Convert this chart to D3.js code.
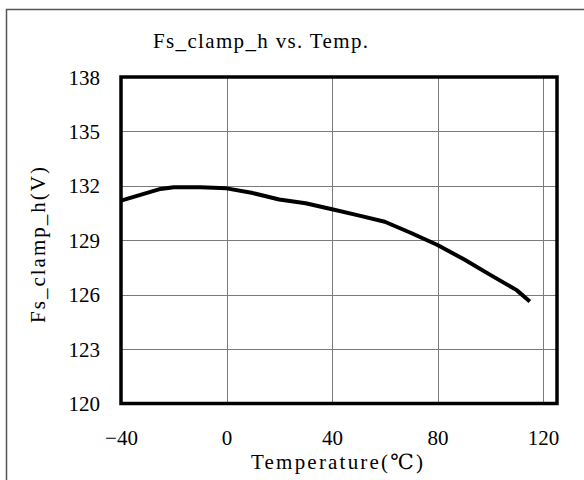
<!DOCTYPE html>
<html>
<head>
<meta charset="utf-8">
<script src="https://cdn.jsdelivr.net/npm/d3@7"></script>
<style>
  body { margin: 0; background: #fff; }
  svg { display: block; }
  text { font-family: "Liberation Serif", "DejaVu Serif", serif; fill: #000; }
</style>
</head>
<body>
<svg id="chart" width="584" height="480"></svg>
<script>
// 温度 (℃)
const temps = [-40, -25, -20, -10, 0, 10, 20, 30, 40, 50, 60, 70, 80, 90, 100, 110, 115]
// Fs_clamp_h (V)
const volts = [131.18, 131.83, 131.92, 131.92, 131.86, 131.6, 131.25, 131.04, 130.71, 130.37, 130.02, 129.4, 128.74, 127.95, 127.09, 126.25, 125.62]
const xTicks = [-40, 0, 40, 80, 120]
const yTicks = [120, 123, 126, 129, 132, 135, 138]

const svg = d3.select('#chart')
const plotLeft = 121
const plotRight = 557
const plotTop = 77
const plotBottom = 403.5

const x = d3.scaleLinear().domain([-40, 125.3]).range([plotLeft, plotRight])
const y = d3.scaleLinear().domain([120, 138]).range([plotBottom, plotTop])

// 外框
svg.append('path')
  .attr('d', `M6.5,480 V9.5 H584`)
  .attr('fill', 'none')
  .attr('stroke', '#555')
  .attr('stroke-width', 1.5)

// 网格线
svg.append('g')
  .selectAll('line')
  .data(xTicks.slice(1))
  .enter()
  .append('line')
  .attr('x1', d => Math.round(x(d)) + 0.5)
  .attr('x2', d => Math.round(x(d)) + 0.5)
  .attr('y1', plotTop)
  .attr('y2', plotBottom)
  .attr('stroke', '#7a7a7a')
  .attr('stroke-width', 1)

svg.append('g')
  .selectAll('line')
  .data(yTicks.slice(1, -1))
  .enter()
  .append('line')
  .attr('x1', plotLeft)
  .attr('x2', plotRight)
  .attr('y1', d => Math.round(y(d)) + 0.5)
  .attr('y2', d => Math.round(y(d)) + 0.5)
  .attr('stroke', '#7a7a7a')
  .attr('stroke-width', 1)

// 坐标轴刻度文字
const xAxis = d3.axisBottom(x).tickValues(xTicks).tickSize(0).tickPadding(0)
  .tickFormat(d => d < 0 ? '\u2212' + Math.abs(d) : d)
const gx = svg.append('g').attr('transform', `translate(0,${plotBottom + 28})`).call(xAxis)
gx.select('.domain').remove()
gx.selectAll('text').attr('font-size', 21).attr('dy', '0.66em')
  .style('font-family', '"Liberation Serif", serif')

const yAxis = d3.axisLeft(y).tickValues(yTicks).tickSize(0).tickPadding(0)
const gy = svg.append('g').attr('transform', `translate(${plotLeft - 21},0)`).call(yAxis)
gy.select('.domain').remove()
gy.selectAll('text').attr('font-size', 21).attr('dy', '0.34em')
  .style('font-family', '"Liberation Serif", serif')

// 曲线
const line = d3.line()
  .x((d, i) => x(temps[i]))
  .y(d => y(d))
svg.append('path')
  .datum(volts)
  .attr('d', line)
  .attr('fill', 'none')
  .attr('stroke', '#000')
  .attr('stroke-width', 4)
  .attr('stroke-linejoin', 'round')

// 图框
svg.append('rect')
  .attr('x', plotLeft)
  .attr('y', plotTop)
  .attr('width', plotRight - plotLeft)
  .attr('height', plotBottom - plotTop)
  .attr('fill', 'none')
  .attr('stroke', '#000')
  .attr('stroke-width', 3.5)

// 标题
svg.append('text')
  .attr('x', 153)
  .attr('y', 48)
  .attr('font-size', 21)
  .attr('textLength', 215)
  .attr('lengthAdjust', 'spacing')
  .text('Fs_clamp_h vs. Temp.')

svg.append('text')
  .attr('x', 251)
  .attr('y', 469)
  .attr('font-size', 21)
  .attr('textLength', 172)
  .attr('lengthAdjust', 'spacing')
  .text('Temperature(℃)')

svg.append('text')
  .attr('transform', 'translate(45,323) rotate(-90)')
  .attr('font-size', 21)
  .attr('textLength', 156)
  .attr('lengthAdjust', 'spacing')
  .text('Fs_clamp_h(V)')
</script>
</body>
</html>
